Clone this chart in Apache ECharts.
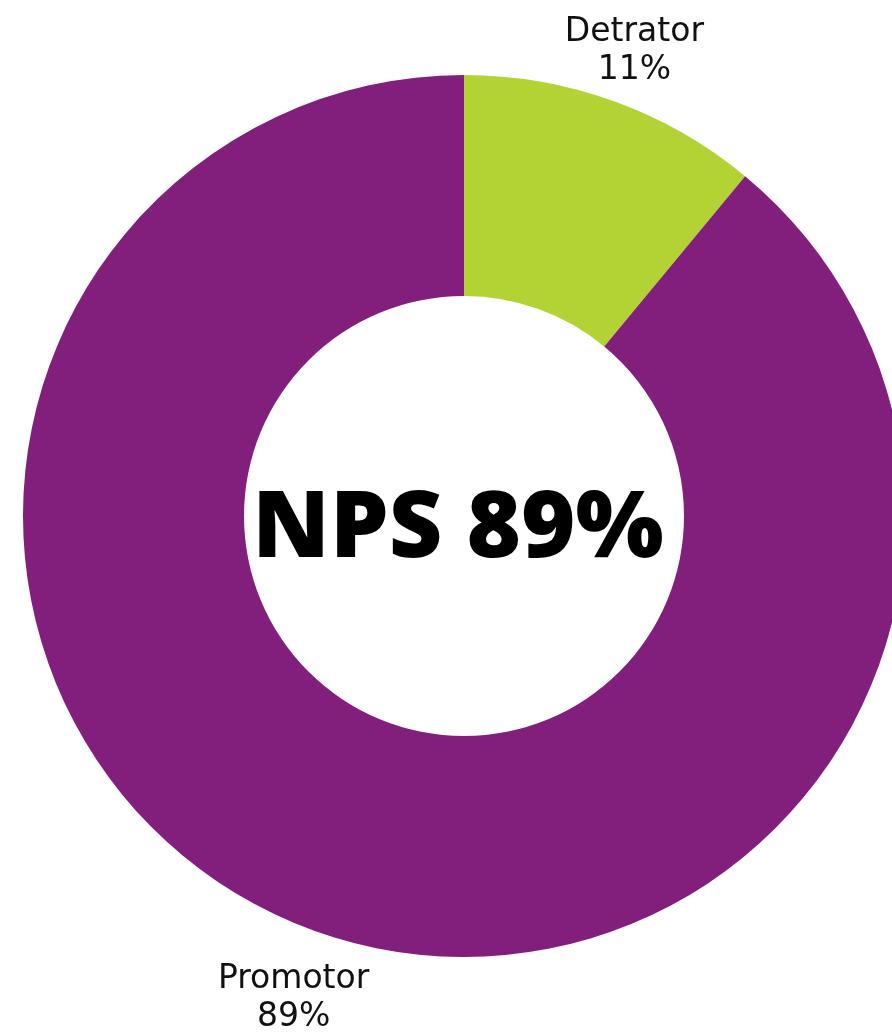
<!DOCTYPE html>
<html>
<head>
<meta charset="utf-8">
<style>
  html, body { margin: 0; padding: 0; background: #fff; }
  #nps_chart { width: 892px; height: 1034px; }
</style>
<script src="https://cdn.jsdelivr.net/npm/echarts@6/dist/echarts.min.js"></script>
</head>
<body>
<div id="nps_chart"></div>
<script>
// data
var categories = ['Detrator', 'Promotor'];
var values = [11, 89];
var colorData = ['#B3D335', '#821E7C'];
var centerText = 'NPS 89%';

var labelFont = 'DejaVu Sans';

function buildPieData(vals, cats) {
    var arr = [];
    for (var i = 0; i < cats.length; i++) {
        arr.push({ name: cats[i], value: vals[i] });
    }
    return arr;
}

var pieData = buildPieData(values, categories);
var pie = echarts.init(document.getElementById('nps_chart'));
var option = {
    animation: false,
    color: colorData,
    graphic: [{
        type: 'text',
        x: 458,
        y: 530,
        style: {
            text: centerText,
            fill: '#000',
            font: '800 93px "Open Sans"',
            align: 'center',
            verticalAlign: 'middle'
        }
    }],
    series: [
        {
            name: 'nps',
            type: 'pie',
            center: [464, 516],
            radius: [220, 441],
            startAngle: 90,
            clockwise: true,
            silent: true,
            label: { show: false },
            labelLine: { show: false },
            itemStyle: { borderWidth: 0 },
            data: pieData
        },
        {
            // transparent ring that only carries the outer labels
            name: 'labels',
            type: 'pie',
            center: [464, 516],
            radius: [490, 510],
            startAngle: 90,
            clockwise: true,
            silent: true,
            itemStyle: { color: 'rgba(0,0,0,0)' },
            labelLine: { show: false },
            label: {
                show: true,
                position: 'inside',
                rotate: 0,
                offset: [0, 9],
                color: '#111',
                fontFamily: labelFont,
                fontSize: 33,
                lineHeight: 38,
                align: 'center',
                formatter: function (p) {
                    return p.name + '\n' + p.value + '%';
                }
            },
            data: pieData
        }
    ]
};
pie.setOption(option);
</script>
</body>
</html>
